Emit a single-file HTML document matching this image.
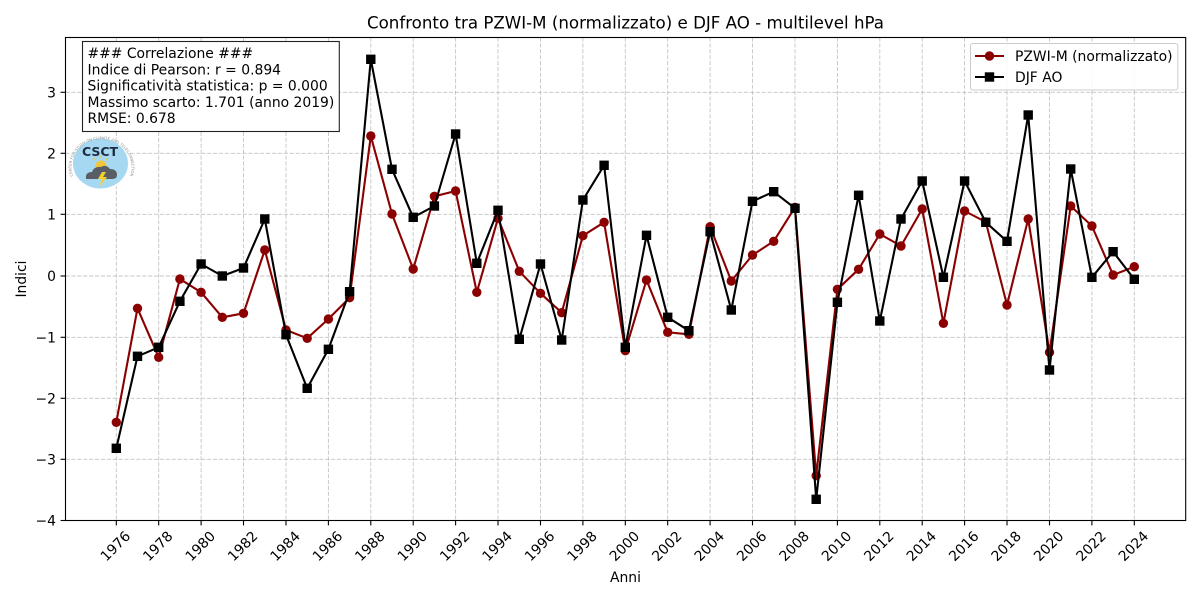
<!DOCTYPE html>
<html>
<head>
<meta charset="utf-8">
<style>
html,body{margin:0;padding:0;background:#fff;}
svg{display:block;}
text{font-family:"DejaVu Sans","Liberation Sans",sans-serif;fill:#000;}
</style>
</head>
<body>
<svg width="1200" height="600" viewBox="0 0 1200 600" xmlns="http://www.w3.org/2000/svg">
<defs>
  <marker id="mc" markerUnits="userSpaceOnUse" markerWidth="12" markerHeight="12" refX="6" refY="6" viewBox="0 0 12 12">
    <circle cx="6" cy="6" r="4.7" fill="#8b0000"/>
  </marker>
  <marker id="ms" markerUnits="userSpaceOnUse" markerWidth="12" markerHeight="12" refX="6" refY="6" viewBox="0 0 12 12">
    <rect x="1.3" y="1.3" width="9.4" height="9.4" fill="#000"/>
  </marker>
</defs>

<!-- title -->
<text x="625.5" y="28.5" font-size="16.67" text-anchor="middle">Confronto tra PZWI-M (normalizzato) e DJF AO - multilevel hPa</text>

<!-- grid -->
<g stroke="#b0b0b0" stroke-opacity="0.75" stroke-width="0.9" stroke-dasharray="4.1 1.8" fill="none">
  <line x1="65.5" x2="1185.7" y1="92.3" y2="92.3"/>
  <line x1="65.5" x2="1185.7" y1="153.3" y2="153.3"/>
  <line x1="65.5" x2="1185.7" y1="214.3" y2="214.3"/>
  <line x1="65.5" x2="1185.7" y1="276" y2="276"/>
  <line x1="65.5" x2="1185.7" y1="337.3" y2="337.3"/>
  <line x1="65.5" x2="1185.7" y1="398.3" y2="398.3"/>
  <line x1="65.5" x2="1185.7" y1="459.3" y2="459.3"/>
  <line x1="116.3" x2="116.3" y1="37.5" y2="520.5"/>
  <line x1="158.7" x2="158.7" y1="37.5" y2="520.5"/>
  <line x1="201.1" x2="201.1" y1="37.5" y2="520.5"/>
  <line x1="243.5" x2="243.5" y1="37.5" y2="520.5"/>
  <line x1="286" x2="286" y1="37.5" y2="520.5"/>
  <line x1="328.4" x2="328.4" y1="37.5" y2="520.5"/>
  <line x1="370.8" x2="370.8" y1="37.5" y2="520.5"/>
  <line x1="413.2" x2="413.2" y1="37.5" y2="520.5"/>
  <line x1="455.6" x2="455.6" y1="37.5" y2="520.5"/>
  <line x1="498" x2="498" y1="37.5" y2="520.5"/>
  <line x1="540.5" x2="540.5" y1="37.5" y2="520.5"/>
  <line x1="582.9" x2="582.9" y1="37.5" y2="520.5"/>
  <line x1="625.3" x2="625.3" y1="37.5" y2="520.5"/>
  <line x1="667.7" x2="667.7" y1="37.5" y2="520.5"/>
  <line x1="710.1" x2="710.1" y1="37.5" y2="520.5"/>
  <line x1="752.5" x2="752.5" y1="37.5" y2="520.5"/>
  <line x1="795" x2="795" y1="37.5" y2="520.5"/>
  <line x1="837.4" x2="837.4" y1="37.5" y2="520.5"/>
  <line x1="879.8" x2="879.8" y1="37.5" y2="520.5"/>
  <line x1="922.2" x2="922.2" y1="37.5" y2="520.5"/>
  <line x1="964.6" x2="964.6" y1="37.5" y2="520.5"/>
  <line x1="1007" x2="1007" y1="37.5" y2="520.5"/>
  <line x1="1049.5" x2="1049.5" y1="37.5" y2="520.5"/>
  <line x1="1091.9" x2="1091.9" y1="37.5" y2="520.5"/>
  <line x1="1134.3" x2="1134.3" y1="37.5" y2="520.5"/>
</g>

<!-- series: PZWI-M -->
<polyline fill="none" stroke="#8b0000" stroke-width="2.1" stroke-linejoin="round" marker-start="url(#mc)" marker-mid="url(#mc)" marker-end="url(#mc)"
points="116.3,422.3 137.5,308.3 158.7,357.3 179.9,279 201.1,292.3 222.3,317.3 243.5,313.3 264.8,250 286,330 307.2,338.3 328.4,319 349.6,297.7 370.8,136 392,214 413.2,269 434.4,196.3 455.6,191 476.8,292.3 498,218.3 519.3,271.3 540.5,293.3 561.7,312.7 582.9,235.7 604.1,222.3 625.3,350.7 646.5,280 667.7,332.3 688.9,334.3 710.1,226.7 731.3,281 752.5,255 773.7,241.3 795,207.3 816.2,475.7 837.4,289.3 858.6,269.3 879.8,234 901,246 922.2,209 943.4,323.3 964.6,211 985.8,222 1007,305 1028.2,219 1049.5,352.3 1070.7,206 1091.9,226 1113.1,275 1134.3,266.7"/>

<!-- series: DJF AO -->
<polyline fill="none" stroke="#000" stroke-width="2.1" stroke-linejoin="round" marker-start="url(#ms)" marker-mid="url(#ms)" marker-end="url(#ms)"
points="116.3,448.3 137.5,356.3 158.7,347.3 179.9,301.3 201.1,264 222.3,276 243.5,268 264.8,219 286,334.7 307.2,388.3 328.4,349.3 349.6,291.7 370.8,59.3 392,169.3 413.2,217.3 434.4,206 455.6,134 476.8,263.3 498,210.3 519.3,339.3 540.5,264 561.7,340 582.9,200 604.1,165.3 625.3,347.3 646.5,235.3 667.7,317.3 688.9,330.7 710.1,231.7 731.3,310 752.5,201.3 773.7,191.7 795,208.3 816.2,499.3 837.4,302.3 858.6,195.3 879.8,321 901,219 922.2,181 943.4,277.3 964.6,181 985.8,222.3 1007,241.3 1028.2,115 1049.5,370 1070.7,169 1091.9,277.3 1113.1,251.7 1134.3,279.3"/>

<!-- axes frame -->
<rect x="65.5" y="37.5" width="1120.2" height="483" fill="none" stroke="#000" stroke-width="1.1"/>

<!-- y ticks -->
<g stroke="#000" stroke-width="1.1">
  <line x1="60.6" x2="65.5" y1="92.3" y2="92.3"/>
  <line x1="60.6" x2="65.5" y1="153.3" y2="153.3"/>
  <line x1="60.6" x2="65.5" y1="214.3" y2="214.3"/>
  <line x1="60.6" x2="65.5" y1="276" y2="276"/>
  <line x1="60.6" x2="65.5" y1="337.3" y2="337.3"/>
  <line x1="60.6" x2="65.5" y1="398.3" y2="398.3"/>
  <line x1="60.6" x2="65.5" y1="459.3" y2="459.3"/>
  <line x1="60.6" x2="65.5" y1="520.5" y2="520.5"/>
</g>
<g font-size="13.9" text-anchor="end">
  <text x="56" y="97.3">3</text>
  <text x="56" y="158.3">2</text>
  <text x="56" y="219.3">1</text>
  <text x="56" y="281">0</text>
  <text x="56" y="342.3">−1</text>
  <text x="56" y="403.3">−2</text>
  <text x="56" y="464.3">−3</text>
  <text x="56" y="525.5">−4</text>
</g>

<!-- x ticks -->
<g stroke="#000" stroke-width="1.1">
  <line x1="116.3" x2="116.3" y1="520.5" y2="525.4"/>
  <line x1="158.7" x2="158.7" y1="520.5" y2="525.4"/>
  <line x1="201.1" x2="201.1" y1="520.5" y2="525.4"/>
  <line x1="243.5" x2="243.5" y1="520.5" y2="525.4"/>
  <line x1="286" x2="286" y1="520.5" y2="525.4"/>
  <line x1="328.4" x2="328.4" y1="520.5" y2="525.4"/>
  <line x1="370.8" x2="370.8" y1="520.5" y2="525.4"/>
  <line x1="413.2" x2="413.2" y1="520.5" y2="525.4"/>
  <line x1="455.6" x2="455.6" y1="520.5" y2="525.4"/>
  <line x1="498" x2="498" y1="520.5" y2="525.4"/>
  <line x1="540.5" x2="540.5" y1="520.5" y2="525.4"/>
  <line x1="582.9" x2="582.9" y1="520.5" y2="525.4"/>
  <line x1="625.3" x2="625.3" y1="520.5" y2="525.4"/>
  <line x1="667.7" x2="667.7" y1="520.5" y2="525.4"/>
  <line x1="710.1" x2="710.1" y1="520.5" y2="525.4"/>
  <line x1="752.5" x2="752.5" y1="520.5" y2="525.4"/>
  <line x1="795" x2="795" y1="520.5" y2="525.4"/>
  <line x1="837.4" x2="837.4" y1="520.5" y2="525.4"/>
  <line x1="879.8" x2="879.8" y1="520.5" y2="525.4"/>
  <line x1="922.2" x2="922.2" y1="520.5" y2="525.4"/>
  <line x1="964.6" x2="964.6" y1="520.5" y2="525.4"/>
  <line x1="1007" x2="1007" y1="520.5" y2="525.4"/>
  <line x1="1049.5" x2="1049.5" y1="520.5" y2="525.4"/>
  <line x1="1091.9" x2="1091.9" y1="520.5" y2="525.4"/>
  <line x1="1134.3" x2="1134.3" y1="520.5" y2="525.4"/>
</g>
<g font-size="13.9" text-anchor="end">
  <text x="131.3" y="537" transform="rotate(-45 131.3 537)">1976</text>
  <text x="173.7" y="537" transform="rotate(-45 173.7 537)">1978</text>
  <text x="216.1" y="537" transform="rotate(-45 216.1 537)">1980</text>
  <text x="258.5" y="537" transform="rotate(-45 258.5 537)">1982</text>
  <text x="301" y="537" transform="rotate(-45 301 537)">1984</text>
  <text x="343.4" y="537" transform="rotate(-45 343.4 537)">1986</text>
  <text x="385.8" y="537" transform="rotate(-45 385.8 537)">1988</text>
  <text x="428.2" y="537" transform="rotate(-45 428.2 537)">1990</text>
  <text x="470.6" y="537" transform="rotate(-45 470.6 537)">1992</text>
  <text x="513" y="537" transform="rotate(-45 513 537)">1994</text>
  <text x="555.5" y="537" transform="rotate(-45 555.5 537)">1996</text>
  <text x="597.9" y="537" transform="rotate(-45 597.9 537)">1998</text>
  <text x="640.3" y="537" transform="rotate(-45 640.3 537)">2000</text>
  <text x="682.7" y="537" transform="rotate(-45 682.7 537)">2002</text>
  <text x="725.1" y="537" transform="rotate(-45 725.1 537)">2004</text>
  <text x="767.5" y="537" transform="rotate(-45 767.5 537)">2006</text>
  <text x="810" y="537" transform="rotate(-45 810 537)">2008</text>
  <text x="852.4" y="537" transform="rotate(-45 852.4 537)">2010</text>
  <text x="894.8" y="537" transform="rotate(-45 894.8 537)">2012</text>
  <text x="937.2" y="537" transform="rotate(-45 937.2 537)">2014</text>
  <text x="979.6" y="537" transform="rotate(-45 979.6 537)">2016</text>
  <text x="1022" y="537" transform="rotate(-45 1022 537)">2018</text>
  <text x="1064.5" y="537" transform="rotate(-45 1064.5 537)">2020</text>
  <text x="1106.9" y="537" transform="rotate(-45 1106.9 537)">2022</text>
  <text x="1149.3" y="537" transform="rotate(-45 1149.3 537)">2024</text>
</g>

<!-- axis labels -->
<text x="625.5" y="582" font-size="13.9" text-anchor="middle">Anni</text>
<text x="26" y="279" font-size="13.9" text-anchor="middle" transform="rotate(-90 26 279)">Indici</text>

<!-- correlation text box -->
<rect x="82.5" y="41.5" width="256.8" height="90" fill="#fff" stroke="#222" stroke-width="1.1"/>
<g font-size="13.9">
  <text x="87.5" y="58">### Correlazione ###</text>
  <text x="87.5" y="74.3">Indice di Pearson: r = 0.894</text>
  <text x="87.5" y="90.6">Significatività statistica: p = 0.000</text>
  <text x="87.5" y="106.9">Massimo scarto: 1.701 (anno 2019)</text>
  <text x="87.5" y="123.2">RMSE: 0.678</text>
</g>

<!-- logo -->
<g>
  <ellipse cx="100.5" cy="163" rx="31" ry="28" fill="#fff" fill-opacity="0.6"/>
  <ellipse cx="100.5" cy="163.5" rx="27.5" ry="25" fill="#a6d8f2"/>
  <path id="ring" d="M 73 176 A 30 28 0 1 1 130 176" fill="none"/>
  <text font-size="3.8" style="fill:#909090"><textPath href="#ring">CENTER FOR STUDY ON CLIMATE AND TELECONNECTIONS</textPath></text>
  <text x="100" y="156" font-size="12.5" font-weight="bold" text-anchor="middle" style="fill:#1c2b3f">CSCT</text>
  <circle cx="101" cy="166" r="5.5" fill="#f3c53a"/>
  <path d="M96 160 l-2 -2 M106 160 l2 -2 M101 158 v-3" stroke="#f3c53a" stroke-width="1.2"/>
  <path d="M86 179 q-1 -7 6 -7 q2 -6 9 -5 q5 -3 9 2 q7 0 7 6 q0 4 -5 4 h-22 q-4 0 -4 0 z" fill="#5a5d64"/>
  <path d="M102 172 l-4 7 h4 l-3 8 l8 -10 h-4 l3 -5 z" fill="#f5d22a"/>
</g>

<!-- legend -->
<rect x="970.5" y="43.5" width="207.3" height="46.5" rx="2.5" ry="2.5" fill="#fff" fill-opacity="0.85" stroke="#cccccc" stroke-width="1"/>
<line x1="975" x2="1004" y1="56" y2="56" stroke="#8b0000" stroke-width="2.1"/>
<circle cx="989.5" cy="56" r="4.7" fill="#8b0000"/>
<text x="1015" y="61" font-size="13.9">PZWI-M (normalizzato)</text>
<line x1="975" x2="1004" y1="77" y2="77" stroke="#000" stroke-width="2.1"/>
<rect x="984.8" y="72.3" width="9.4" height="9.4" fill="#000"/>
<text x="1015" y="82" font-size="13.9">DJF AO</text>
</svg>
</body>
</html>
